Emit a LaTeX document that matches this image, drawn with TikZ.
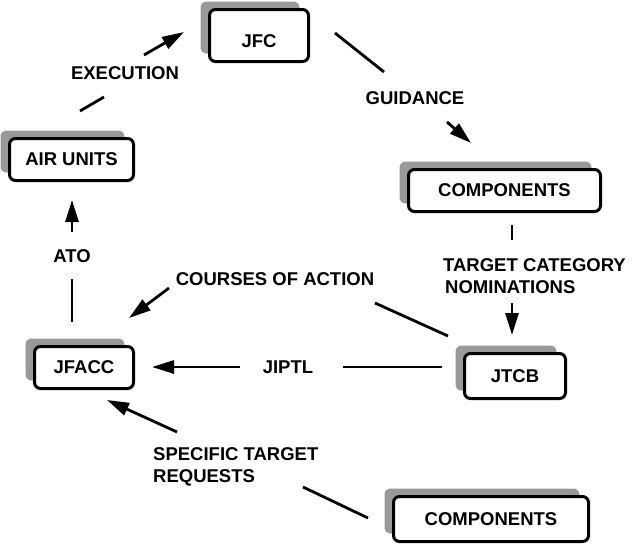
\documentclass[tikz,border=0pt]{standalone}
\usepackage{fontspec}
\setmainfont{Liberation Sans}
\usetikzlibrary{arrows.meta,shadows}
\begin{document}
\begin{tikzpicture}[x=1pt,y=-1pt,
  boxnode/.style={draw, line width=3pt, rounded corners=6pt, fill=white,
    font=\bfseries\fontsize{18.5}{22}\selectfont, inner sep=0pt,
    drop shadow={shadow xshift=-9pt, shadow yshift=8pt, fill=black!40, opacity=1}},
  lbl/.style={font=\bfseries\fontsize{18.5}{22}\selectfont, inner sep=0pt},
  seg/.style={line width=2.8pt},
  arr/.style={line width=2.8pt, -{Triangle[length=22pt,width=13pt]}}]
\path[use as bounding box] (0,0) rectangle (637,544);
% boxes
\node[boxnode, minimum width=99pt, minimum height=52pt, text height=24pt, text depth=0pt] (jfc) at (259,35.5) {JFC};
\node[boxnode, minimum width=124pt, minimum height=42pt] (air) at (71.5,159.5) {AIR UNITS};
\node[boxnode, minimum width=192pt, minimum height=42pt] (comp1) at (504.5,190.5) {COMPONENTS};
\node[boxnode, minimum width=101pt, minimum height=45pt] (jtcb) at (515,376) {JTCB};
\node[boxnode, minimum width=99pt, minimum height=42pt] (jfacc) at (84,367.5) {JFACC};
\node[boxnode, minimum width=195pt, minimum height=45pt] (comp2) at (491,519) {COMPONENTS};
% labels
\node[lbl] (exe) at (125,73) {EXECUTION};
\node[lbl] (guid) at (415,98) {GUIDANCE};
\node[lbl, align=left, anchor=west] (tcn) at (443,276) {TARGET CATEGORY\\\hspace*{2pt}NOMINATIONS};
\node[lbl] (coa) at (275,279) {COURSES OF ACTION};
\node[lbl] (jiptl) at (288,367) {JIPTL};
\node[lbl] (ato) at (72,256) {ATO};
\node[lbl, align=left, anchor=west] (str) at (153,467) {SPECIFIC TARGET\\REQUESTS};
% connector coordinates
\coordinate (e1) at (80,111); \coordinate (e2) at (104,97);
\coordinate (e3) at (144,55); \coordinate (e4) at (184,32);
\coordinate (g1) at (335,33); \coordinate (g2) at (384,72);
\coordinate (g3) at (447,122); \coordinate (g4) at (471,143);
\coordinate (t1) at (512,225); \coordinate (t2) at (512,240);
\coordinate (t3) at (512,303); \coordinate (t4) at (512,335);
\coordinate (c1) at (448,336); \coordinate (c2) at (375,303);
\coordinate (c3) at (169,288); \coordinate (c4) at (129,318);
\coordinate (j1) at (442,367); \coordinate (j2) at (343,367);
\coordinate (j3) at (240,367); \coordinate (j4) at (152,367);
\coordinate (a1) at (72,322); \coordinate (a2) at (72,279);
\coordinate (a3) at (72,232); \coordinate (a4) at (72,200);
\coordinate (s1) at (368,518); \coordinate (s2) at (303,487);
\coordinate (s3) at (177,432); \coordinate (s4) at (107,400);
% connectors
\draw[seg] (e1) -- (e2); \draw[arr] (e3) -- (e4);
\draw[seg] (g1) -- (g2); \draw[arr] (g3) -- (g4);
\draw[seg] (t1) -- (t2); \draw[arr] (t3) -- (t4);
\draw[seg] (c1) -- (c2); \draw[arr] (c3) -- (c4);
\draw[seg] (j1) -- (j2); \draw[arr] (j3) -- (j4);
\draw[seg] (a1) -- (a2); \draw[arr] (a3) -- (a4);
\draw[seg] (s1) -- (s2); \draw[arr] (s3) -- (s4);
\end{tikzpicture}
\end{document}
